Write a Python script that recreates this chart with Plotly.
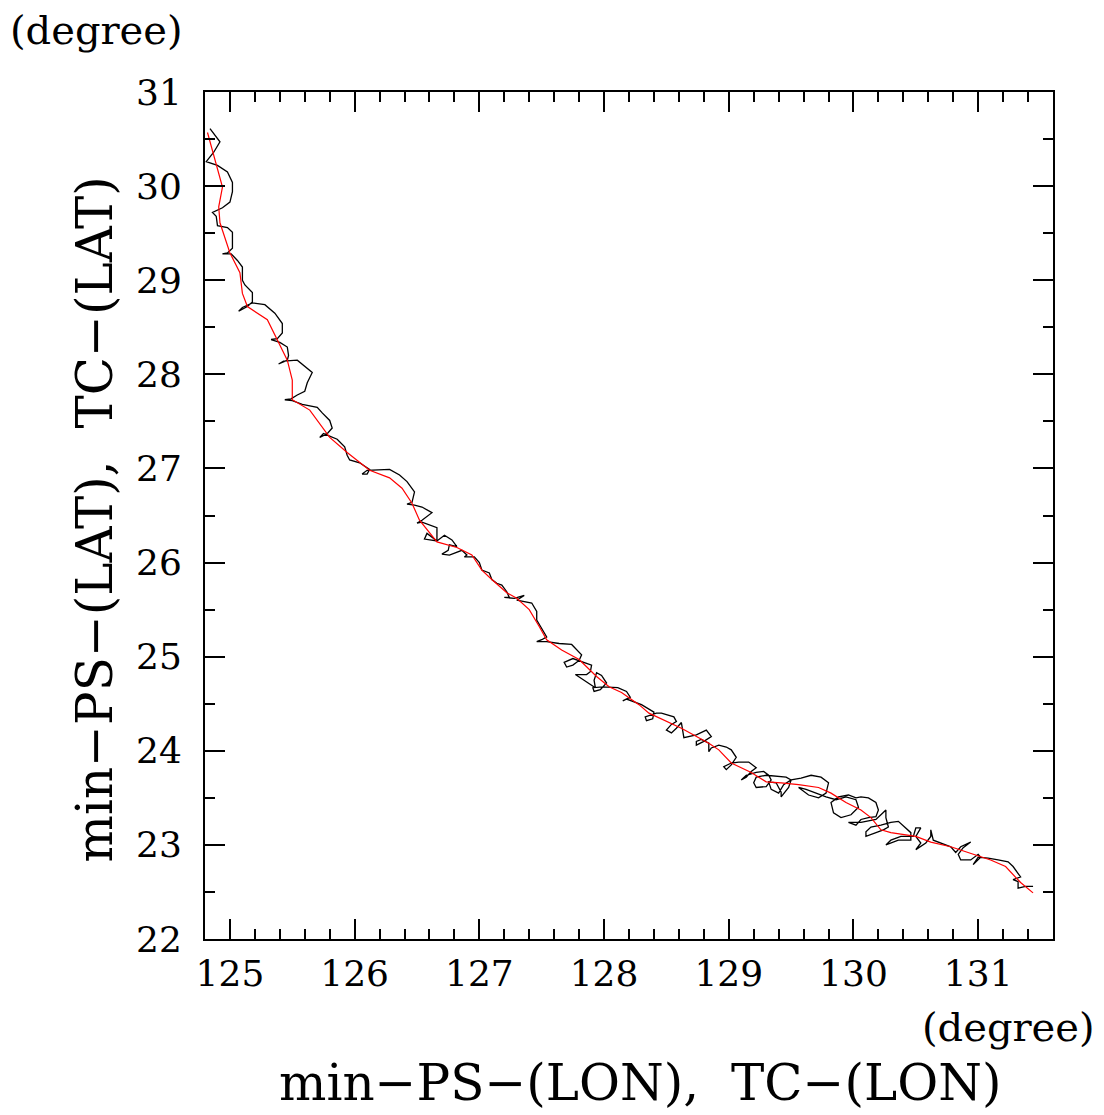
import plotly.graph_objects as go

# Minimum sea-level-pressure track (black)
ps_lon = [124.84, 124.92, 124.87, 124.81, 124.90, 124.98, 125.02, 125.02, 125.00, 124.94,
          124.86, 124.89, 124.90, 124.98, 125.02, 125.02, 125.02, 124.98, 124.94, 125.01,
          125.06, 125.10, 125.10, 125.12, 125.18, 125.18, 125.14, 125.07, 125.10, 125.18,
          125.28, 125.36, 125.42, 125.42, 125.38, 125.33, 125.40, 125.46, 125.47, 125.46,
          125.39, 125.43, 125.54, 125.66, 125.62, 125.60, 125.54, 125.49, 125.44, 125.50,
          125.58, 125.70, 125.74, 125.80, 125.82, 125.78, 125.72, 125.75, 125.86, 125.92,
          125.94, 125.96, 126.04, 126.12, 126.10, 126.06, 126.10, 126.28, 126.36, 126.42,
          126.48, 126.46, 126.42, 126.48, 126.54, 126.62, 126.54, 126.50, 126.54, 126.60,
          126.66, 126.66, 126.66, 126.56, 126.58, 126.66, 126.72, 126.78, 126.82, 126.76,
          126.75, 126.70, 126.76, 126.86, 126.90, 126.88, 126.96, 127.00, 127.02, 127.08,
          127.10, 127.14, 127.18, 127.22, 127.24, 127.20, 127.28, 127.36, 127.30, 127.42,
          127.46, 127.46, 127.54, 127.50, 127.46, 127.54, 127.64, 127.74, 127.82, 127.80,
          127.75, 127.70, 127.68, 127.75, 127.83, 127.90, 127.89, 127.86, 127.77, 127.85,
          127.93, 127.92, 127.94, 127.98, 128.02, 127.97, 127.92, 127.91, 127.99, 128.11,
          128.18, 128.21, 128.15, 128.18, 128.30, 128.40, 128.39, 128.34, 128.33, 128.42,
          128.46, 128.56, 128.58, 128.54, 128.50, 128.54, 128.58, 128.62, 128.64, 128.74,
          128.82, 128.86, 128.80, 128.74, 128.74, 128.78, 128.84, 128.84, 128.86, 128.92,
          128.98, 129.02, 129.06, 129.02, 128.98, 128.96, 129.02, 129.08, 129.16, 129.22,
          129.18, 129.14, 129.10, 129.14, 129.22, 129.28, 129.32, 129.34, 129.30, 129.22,
          129.20, 129.22, 129.30, 129.38, 129.46, 129.50, 129.48, 129.42, 129.42, 129.38,
          129.32, 129.34, 129.40, 129.44, 129.50, 129.58, 129.66, 129.74, 129.80, 129.78,
          129.72, 129.64, 129.56, 129.62, 129.70, 129.78, 129.86, 129.94, 130.02, 130.04,
          129.98, 129.90, 129.84, 129.82, 129.88, 129.96, 130.02, 130.06, 130.12, 130.18,
          130.20, 130.18, 130.12, 130.06, 130.02, 129.96, 130.06, 130.18, 130.22, 130.26,
          130.26, 130.28, 130.24, 130.18, 130.10, 130.10, 130.14, 130.22, 130.30, 130.36,
          130.42, 130.46, 130.46, 130.36, 130.26, 130.30, 130.38, 130.48, 130.50, 130.54,
          130.50, 130.54, 130.50, 130.58, 130.62, 130.62, 130.64, 130.74, 130.78, 130.82,
          130.86, 130.94, 130.88, 130.84, 130.86, 130.94, 131.00, 131.02, 130.96, 131.00,
          131.08, 131.16, 131.24, 131.28, 131.34, 131.28, 131.32, 131.32, 131.38, 131.44]
ps_lat = [30.61, 30.47, 30.36, 30.26, 30.22, 30.15, 30.04, 29.94, 29.83, 29.77,
          29.72, 29.68, 29.58, 29.56, 29.51, 29.43, 29.34, 29.29, 29.28, 29.28,
          29.21, 29.14, 29.00, 28.95, 28.87, 28.77, 28.72, 28.67, 28.71, 28.76,
          28.74, 28.65, 28.54, 28.44, 28.38, 28.37, 28.34, 28.29, 28.20, 28.15,
          28.11, 28.14, 28.15, 28.02, 27.91, 27.82, 27.78, 27.74, 27.73, 27.72,
          27.68, 27.65, 27.59, 27.51, 27.43, 27.37, 27.33, 27.37, 27.31, 27.23,
          27.14, 27.09, 27.06, 26.99, 26.94, 26.94, 26.98, 26.99, 26.93, 26.86,
          26.75, 26.64, 26.62, 26.61, 26.59, 26.53, 26.45, 26.42, 26.43, 26.40,
          26.37, 26.27, 26.23, 26.25, 26.31, 26.23, 26.29, 26.24, 26.17, 26.19,
          26.13, 26.09, 26.08, 26.13, 26.08, 26.06, 26.06, 26.00, 25.92, 25.89,
          25.82, 25.78, 25.76, 25.69, 25.63, 25.63, 25.62, 25.65, 25.60, 25.57,
          25.48, 25.39, 25.21, 25.18, 25.16, 25.16, 25.14, 25.13, 25.02, 24.96,
          24.91, 24.89, 24.94, 24.98, 24.94, 24.91, 24.84, 24.81, 24.81, 24.74,
          24.67, 24.75, 24.83, 24.80, 24.72, 24.65, 24.63, 24.67, 24.68, 24.67,
          24.63, 24.57, 24.53, 24.55, 24.49, 24.41, 24.34, 24.32, 24.36, 24.40,
          24.40, 24.36, 24.31, 24.28, 24.22, 24.19, 24.24, 24.30, 24.14, 24.17,
          24.22, 24.15, 24.10, 24.06, 24.10, 24.12, 24.08, 23.99, 24.03, 24.06,
          24.04, 24.01, 23.93, 23.85, 23.80, 23.83, 23.87, 23.88, 23.88, 23.82,
          23.78, 23.72, 23.69, 23.74, 23.77, 23.78, 23.74, 23.69, 23.62, 23.61,
          23.66, 23.72, 23.74, 23.73, 23.72, 23.69, 23.61, 23.51, 23.56, 23.66,
          23.67, 23.59, 23.55, 23.64, 23.69, 23.71, 23.74, 23.72, 23.66, 23.55,
          23.50, 23.53, 23.61, 23.59, 23.55, 23.51, 23.48, 23.51, 23.48, 23.40,
          23.32, 23.29, 23.34, 23.45, 23.51, 23.53, 23.50, 23.51, 23.50, 23.45,
          23.37, 23.30, 23.29, 23.27, 23.21, 23.24, 23.24, 23.27, 23.32, 23.37,
          23.29, 23.19, 23.16, 23.13, 23.09, 23.14, 23.19, 23.21, 23.24, 23.25,
          23.18, 23.13, 23.05, 23.05, 23.00, 23.05, 23.09, 23.09, 23.18, 23.18,
          23.09, 23.02, 22.95, 23.02, 23.09, 23.16, 23.05, 23.00, 22.98, 22.92,
          22.98, 23.03, 22.97, 22.90, 22.84, 22.84, 22.90, 22.87, 22.79, 22.87,
          22.86, 22.84, 22.82, 22.77, 22.66, 22.63, 22.61, 22.54, 22.56, 22.56]

# Tropical cyclone track (red)
tc_lon = [124.82, 124.88, 124.94, 124.91, 124.92, 125.00, 125.08, 125.10, 125.14, 125.30,
          125.38, 125.46, 125.50, 125.50, 125.64, 125.74, 125.80, 125.94, 126.12, 126.28,
          126.38, 126.46, 126.52, 126.66, 126.82, 126.94, 127.02, 127.10, 127.22, 127.30,
          127.40, 127.48, 127.54, 127.66, 127.80, 127.94, 128.04, 128.14, 128.28, 128.36,
          128.62, 128.84, 128.92, 129.02, 129.18, 129.30, 129.42, 129.56, 129.72, 129.82,
          129.94, 130.06, 130.14, 130.22, 130.30, 130.50, 130.62, 130.78, 130.98, 131.10,
          131.22, 131.30, 131.34, 131.44]
tc_lat = [30.57, 30.28, 29.99, 29.78, 29.61, 29.29, 29.08, 28.86, 28.72, 28.58,
          28.36, 28.15, 27.94, 27.73, 27.62, 27.44, 27.33, 27.17, 26.98, 26.90,
          26.79, 26.63, 26.45, 26.22, 26.16, 26.08, 25.92, 25.82, 25.68, 25.62,
          25.50, 25.32, 25.18, 25.07, 24.97, 24.79, 24.68, 24.62, 24.49, 24.40,
          24.24, 24.08, 24.01, 23.87, 23.77, 23.67, 23.66, 23.64, 23.61, 23.55,
          23.45, 23.37, 23.29, 23.16, 23.13, 23.09, 23.03, 22.98, 22.89, 22.84,
          22.77, 22.66, 22.60, 22.49]

x_range = [124.8, 131.6]
y_range = [22, 31]
x_ticks = [125, 126, 127, 128, 129, 130, 131]
y_ticks = [22, 23, 24, 25, 26, 27, 28, 29, 30, 31]

FONT = "DejaVu Serif"

fig = go.Figure()
fig.add_trace(go.Scatter(x=ps_lon, y=ps_lat, mode="lines",
                         line=dict(color="black", width=1.3), showlegend=False))
fig.add_trace(go.Scatter(x=tc_lon, y=tc_lat, mode="lines",
                         line=dict(color="#ff0000", width=1.2), showlegend=False))

axis_common = dict(
    showgrid=False, zeroline=False, showline=True, linecolor="black", linewidth=2,
    mirror="ticks", ticks="inside", ticklen=20, tickwidth=2, tickcolor="black",
    tickfont=dict(family=FONT, size=36, color="black"),
)
fig.update_xaxes(range=x_range, tickvals=x_ticks,
                 minor=dict(dtick=0.2, tick0=125, ticks="inside", ticklen=10,
                            tickwidth=1.5, tickcolor="black"),
                 ticklabelstandoff=2, **axis_common)
fig.update_yaxes(range=y_range, tickvals=y_ticks,
                 minor=dict(dtick=0.5, tick0=22, ticks="inside", ticklen=10,
                            tickwidth=1.5, tickcolor="black"),
                 ticklabelstandoff=14, **axis_common)

ann_font_big = dict(family=FONT, size=50, color="black")
ann_font_small = dict(family=FONT, size=40, color="black")
fig.add_annotation(text="min\u2212PS\u2212(LON),\u00a0\u00a0TC\u2212(LON)", xref="paper", yref="paper",
                   x=0.513, y=-0.170, xanchor="center", yanchor="middle",
                   showarrow=False, font=ann_font_big)
fig.add_annotation(text="min\u2212PS\u2212(LAT),\u00a0\u00a0TC\u2212(LAT)", xref="paper", yref="paper",
                   x=-0.130, y=0.495, xanchor="center", yanchor="middle", textangle=-90,
                   showarrow=False, font=ann_font_big)
fig.add_annotation(text="(degree)", xref="paper", yref="paper",
                   x=-0.128, y=1.073, xanchor="center", yanchor="middle",
                   showarrow=False, font=ann_font_small)
fig.add_annotation(text="(degree)", xref="paper", yref="paper",
                   x=0.948, y=-0.104, xanchor="center", yanchor="middle",
                   showarrow=False, font=ann_font_small)

# page body has an 8px default margin, so the figure is sized to fit inside the window
fig.update_layout(width=1096, height=1107,
                  margin=dict(l=197, r=51, t=84, b=176),
                  plot_bgcolor="white", paper_bgcolor="white")

fig.write_html("out.html")
